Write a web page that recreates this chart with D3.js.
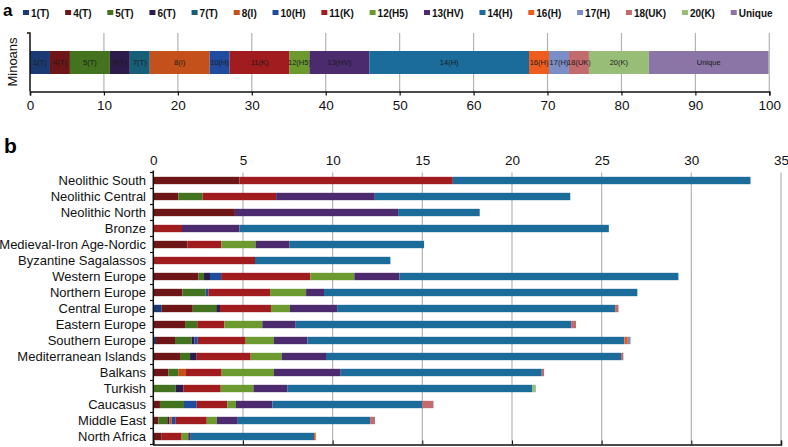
<!DOCTYPE html>
<html><head><meta charset="utf-8">
<script src="https://cdn.jsdelivr.net/npm/d3@7"></script>
<style>body{margin:0;background:#fff}svg{display:block;font-family:"Liberation Sans",Arial,sans-serif}</style>
</head><body><svg id="c" width="788" height="447"></svg>
<script>
// ---------- DATA ----------
const haplogroups = ["1(T)","4(T)","5(T)","6(T)","7(T)","8(I)","10(H)","11(K)","12(H5)","13(HV)","14(H)","16(H)","17(H)","18(UK)","20(K)","Unique"];
const colors = ["#1b3a73","#6e1517","#44731f","#2d1b4b","#175e78","#c4501c","#1f4c9e","#a11c1f","#6c9a2f","#4b2a6d","#1b6c9b","#ef5d1e","#7b8ec8","#c26a6d","#97bd77","#8b74a6"];
// Panel a: Minoans, percent per haplogroup
const minoans = [2.7,2.7,5.4,2.7,2.7,8.1,2.7,8.1,2.7,8.1,21.6,2.7,2.7,2.7,8.1,16.2];
const aTicks = [0,10,20,30,40,50,60,70,80,90,100];
// Panel b
const regions = ["Neolithic South","Neolithic Central","Neolithic North","Bronze","Medieval-Iron Age-Nordic","Byzantine Sagalassos","Western Europe","Northern Europe","Central Europe","Eastern Europe","Southern Europe","Mediterranean Islands","Balkans","Turkish","Caucasus","Middle East","North Africa"];
const s1T   = [0,0,0,0,0,0,0,0,0.47,0,0.15,0,0,0,0,0,0];
const s4T   = [4.8,1.4,4.55,0,1.9,0,2.51,1.62,1.73,1.77,1.06,1.49,0.84,0,0.37,0.28,0.47];
const s5T   = [0,1.35,0,0,0,0,0.32,1.30,1.31,0.68,0.93,0.56,0.55,1.25,1.34,0.5,0];
const s6T   = [0,0,0,0,0,0,0.33,0,0.21,0,0.15,0.37,0,0.42,0,0.11,0];
const s7T   = [0,0,0,0,0,0,0,0,0,0,0,0,0,0,0,0,0];
const s8I   = [0,0,0,0,0,0,0,0,0,0,0,0,0.43,0,0,0.14,0];
const s10H  = [0,0,0,0,0,0,0.62,0.15,0,0,0.19,0,0,0,0.71,0.22,0];
const s11K  = [11.9,4.1,0,1.6,1.9,5.67,4.98,3.44,2.84,1.51,2.67,3.01,1.99,2.09,1.71,1.73,1.11];
const s12H5 = [0,0,0,0,1.9,0,2.45,2.01,1.06,2.12,1.58,1.73,2.92,1.82,0.48,0.56,0.37];
const s13HV = [0,5.5,9.1,3.2,1.9,0,2.51,1.0,2.63,1.86,1.86,2.47,3.72,1.89,2.03,1.17,0.14];
const s14H  = [16.6,10.9,4.55,20.6,7.5,7.55,15.56,17.47,15.5,15.36,17.68,16.45,11.21,13.67,8.35,7.38,6.87];
const s16H  = [0,0,0,0,0,0,0,0,0,0,0.19,0,0,0,0,0,0.1];
const s17H  = [0,0,0,0,0,0,0,0,0,0,0.15,0,0,0,0,0,0];
const s18UK = [0,0,0,0,0,0,0,0,0.19,0.27,0,0.13,0.13,0,0.63,0.27,0];
const s20K  = [0,0,0,0,0,0,0,0,0,0,0,0,0,0.19,0,0,0];
const sUnique = [0,0,0,0,0,0,0,0,0,0,0,0,0,0,0,0,0];
const bTicks = [0,5,10,15,20,25,30,35];

const series = [s1T,s4T,s5T,s6T,s7T,s8I,s10H,s11K,s12H5,s13HV,s14H,s16H,s17H,s18UK,s20K,sUnique];
const svg = d3.select("#c");
const color = d3.scaleOrdinal(haplogroups, colors);
const grid = "#b3b3b3";

// ---------- Legend ----------
const leg = svg.append("g");
let lx = 23;
haplogroups.forEach((h,i)=>{
  const g = leg.append("g").attr("transform",`translate(${lx},0)`);
  g.append("rect").attr("x",0).attr("y",10).attr("width",6).attr("height",5).attr("fill",color(h));
  const t = g.append("text").attr("x",8).attr("y",17).attr("font-size",10).attr("font-weight","bold").attr("fill","#111").text(h);
  lx += 8 + t.node().getComputedTextLength() + 15.8;
});
svg.append("text").attr("x",3).attr("y",16).attr("font-size",17).attr("font-weight","bold").text("a");
svg.append("text").attr("x",4).attr("y",153).attr("font-size",21).attr("font-weight","bold").text("b");

// ---------- Panel a ----------
const xa = d3.scaleLinear().domain([0,100]).range([30,769.3]);
const aTop = 33, aBot = 91.5;
svg.append("g").selectAll("line").data(aTicks.slice(1)).join("line")
  .attr("x1",d=>xa(d)).attr("x2",d=>xa(d)).attr("y1",aTop).attr("y2",aBot).attr("stroke",grid).attr("stroke-width",1.2);
const stA = [];
let acc = 0;
minoans.forEach((v,i)=>{ stA.push({h:haplogroups[i],x0:acc,x1:acc+v}); acc+=v; });
const ga = svg.append("g");
ga.selectAll("rect").data(stA).join("rect")
  .attr("x",d=>xa(d.x0)).attr("width",d=>xa(d.x1)-xa(d.x0))
  .attr("y",51).attr("height",23).attr("fill",d=>color(d.h));
ga.selectAll("text").data(stA).join("text")
  .attr("x",d=>(xa(d.x0)+xa(d.x1))/2).attr("y",65).attr("text-anchor","middle")
  .attr("font-size",7.5).attr("fill","#1a1a1a").text(d=>d.h);
const axA = svg.append("g").attr("transform",`translate(0,${aBot})`)
  .call(d3.axisBottom(xa).tickValues(aTicks).tickSize(4).tickPadding(5));
axA.select(".domain").attr("stroke","#111").attr("stroke-width",1.5);
axA.selectAll(".tick line").attr("stroke","#111").attr("stroke-width",1.2);
axA.selectAll("text").attr("font-size",13.5).attr("fill","#111").attr("font-family","Liberation Sans, Arial, sans-serif");
svg.append("path").attr("d",`M27,${aTop}H30V${aBot}`).attr("fill","none").attr("stroke","#111").attr("stroke-width",1.5);
svg.append("text").attr("transform",`translate(17,62) rotate(-90)`).attr("text-anchor","middle")
  .attr("font-size",13).attr("fill","#111").text("Minoans");

// ---------- Panel b ----------
const xb = d3.scaleLinear().domain([0,35]).range([153.3,781]);
const bTop = 172.5, bBot = 444.5;
const yb = d3.scaleBand().domain(regions).range([bTop,bBot]).paddingInner(0.54).paddingOuter(0.27);
svg.append("g").selectAll("line").data(bTicks.slice(1)).join("line")
  .attr("x1",d=>xb(d)).attr("x2",d=>xb(d)).attr("y1",bTop).attr("y2",bBot).attr("stroke",grid).attr("stroke-width",1.2);
const table = regions.map((r,i)=>{ const o={region:r}; haplogroups.forEach((h,j)=>o[h]=series[j][i]); return o; });
const stack = d3.stack().keys(haplogroups)(table);
svg.append("g").selectAll("g").data(stack).join("g").attr("fill",d=>color(d.key))
  .selectAll("rect").data(d=>d.filter(p=>p[1]-p[0]>0)).join("rect")
  .attr("x",d=>xb(d[0])).attr("width",d=>xb(d[1])-xb(d[0]))
  .attr("y",d=>yb(d.data.region)).attr("height",yb.bandwidth());
const axT = svg.append("g").attr("transform",`translate(0,${bTop})`)
  .call(d3.axisTop(xb).tickValues(bTicks).tickSize(0).tickPadding(8));
axT.select(".domain").remove();
axT.selectAll("text").attr("font-size",13.5).attr("fill","#111").attr("font-family","Liberation Sans, Arial, sans-serif");
const axB = svg.append("g").attr("transform",`translate(0,${bBot})`)
  .call(d3.axisTop(xb).tickValues(bTicks).tickSize(4).tickFormat(""));
axB.select(".domain").attr("stroke","#111").attr("stroke-width",1.5);
axB.selectAll(".tick line").attr("stroke","#111");
// left axis
const step = yb.step();
const bounds = d3.range(regions.length+1).map(i=>bTop + i*step);
svg.append("line").attr("x1",153.3).attr("x2",153.3).attr("y1",bTop-2).attr("y2",bBot).attr("stroke","#111").attr("stroke-width",1.5);
svg.append("g").selectAll("line").data(bounds).join("line")
  .attr("x1",150).attr("x2",153.3).attr("y1",d=>d).attr("y2",d=>d).attr("stroke","#111").attr("stroke-width",1.2);
svg.append("g").selectAll("text").data(regions).join("text")
  .attr("x",146).attr("y",d=>yb(d)+yb.bandwidth()/2+4.5).attr("text-anchor","end")
  .attr("font-size",13).attr("fill","#111").text(d=>d);
</script></body></html>
